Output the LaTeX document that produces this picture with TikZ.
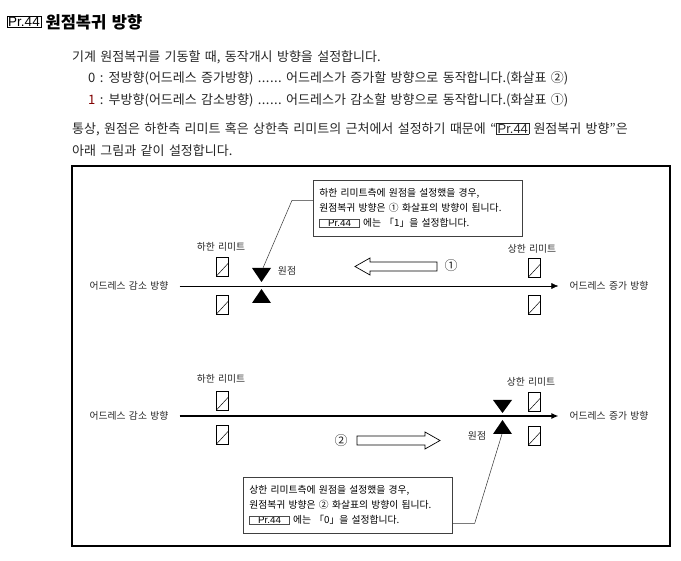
\documentclass[tikz,border=0pt]{standalone}
\usepackage{fontspec}
\setmainfont{Noto Sans CJK KR}[WordSpace=1.5]
\newfontfamily\prfont{Liberation Sans}
\usetikzlibrary{arrows.meta,positioning}
\newcommand{\prno}[1]{{\setlength{\fboxsep}{0.6pt}\setlength{\fboxrule}{0.6pt}\fcolorbox{black!70}{white}{\makebox[#1]{\prfont Pr.44}}}}
\newcommand{\leaderdots}{\makebox[24pt][s]{.\hfil.\hfil.\hfil.\hfil.\hfil.}}
\tikzset{
	prkey/.style={draw, line width=0.9pt, inner sep=1.2pt, font=\prfont\fontsize{13.5}{13.5}\selectfont},
	ttl/.style={inner sep=0pt, font=\bfseries\fontsize{16.5}{16.5}\selectfont},
	body/.style={anchor=west, inner sep=0pt, font=\fontsize{13}{14}\selectfont, text=black!85},
	lbl/.style={inner sep=0pt, font=\fontsize{9.8}{11}\selectfont, text=black!85},
	limitbox/.style={draw, line width=0.6pt, minimum width=12pt, minimum height=19pt, inner sep=0pt,
		path picture={\draw[line width=0.5pt] (path picture bounding box.south west) -- ([yshift=-6pt]path picture bounding box.north east);}},
	callout/.style={draw=black!75, line width=0.7pt, anchor=north west, minimum width=209pt, minimum height=56pt,
		text width=197pt, inner xsep=6pt, align=left, font=\fontsize{9.8}{15}\selectfont},
	leader/.style={line width=0.5pt, black!80},
	hollow/.style={draw, line width=0.7pt, fill=white}
}
\begin{document}
\begin{tikzpicture}[x=1pt,y=-1pt]
	\useasboundingbox (0,0) rectangle (681,561);
	% heading
	\node[prkey] (ttlkey) at (24,22) {Pr.44};
	\node[ttl, right=4pt of ttlkey] (ttl) {원점복귀 방향};

	% explanation
	\node[body] (l1) at (72,57) {기계 원점복귀를 기동할 때, 동작개시 방향을 설정합니다.};
	\node[body] (l2) at (88,78) {0 : 정방향(어드레스 증가방향) \leaderdots{} 어드레스가 증가할 방향으로 동작합니다.(화살표 ②)};
	\node[body] (l3) at (88,100) {\textcolor{red!50!black}{1} : 부방향(어드레스 감소방향) \leaderdots{} 어드레스가 감소할 방향으로 동작합니다.(화살표 ①)};
	\node[body] (l4) at (72,129) {통상, 원점은 하한측 리미트 혹은 상한측 리미트의 근처에서 설정하기 때문에 “{\setlength{\fboxsep}{0.8pt}\fbox{\prfont Pr.44}} 원점복귀 방향”은};
	\node[body] (l5) at (72,151) {아래 그림과 같이 설정합니다.};

	\draw[line width=1.1pt] (72,166) rectangle (670,546);%Rahmen

	% upper case: origin at lower limit
	\node[lbl] (dec1) at (129,286) {어드레스 감소 방향};
	\node[lbl] (inc1) at (609,286) {어드레스 증가 방향};
	\draw[line width=0.6pt, -{Latex[length=7pt,width=6pt]}] ([xshift=11pt]dec1.east) -- ([xshift=-11pt]inc1.west);

	\node[lbl] (lolbl1) at (221,247) {하한 리미트};
	\node[limitbox] (lo1a) at (222,267) {};
	\node[limitbox] (lo1b) at (222,305) {};
	\node[lbl] (uplbl1) at (532,249) {상한 리미트};
	\node[limitbox] (up1a) at (534,268) {};
	\node[limitbox] (up1b) at (534,305) {};

	\fill (252,268) -- (271,268) -- (261.5,282) -- cycle;%Dreieck unten
	\fill (252,303) -- (271,303) -- (261.5,289) -- cycle;%Dreieck oben
	\coordinate (org1) at (263,268);
	\node[lbl] (orglbl1) at (287,271) {원점};

	\draw[hollow] (437,262) -- (370,262) -- (370,258) -- (355,266.5) -- (370,275) -- (370,271) -- (437,271) -- cycle;%Pfeil 1
	\node[lbl, font=\fontsize{13}{13}\selectfont] (num1) at (451,266) {①};

	\node[callout] (cb1) at (313,180) {하한 리미트측에 원점을 설정했을 경우,\\원점복귀 방향은 ① 화살표의 방향이 됩니다.\\\prno{38pt} 에는 「1」을 설정합니다.};
	\draw[leader] ([yshift=8pt]cb1.west) -- ++(-21,0) -- (org1);

	% lower case: origin at upper limit
	\node[lbl] (dec2) at (129,416) {어드레스 감소 방향};
	\node[lbl] (inc2) at (609,416) {어드레스 증가 방향};
	\draw[line width=1.2pt, -{Latex[length=7pt,width=6pt]}] ([xshift=11pt]dec2.east) -- ([xshift=-11pt]inc2.west);

	\node[lbl] (lolbl2) at (221,379) {하한 리미트};
	\node[limitbox] (lo2a) at (222,401) {};
	\node[limitbox] (lo2b) at (222,435) {};
	\node[lbl] (uplbl2) at (531,382) {상한 리미트};
	\node[limitbox] (up2a) at (534,402) {};
	\node[limitbox] (up2b) at (534,436) {};

	\fill (493,400) -- (512,400) -- (502.5,413) -- cycle;%Dreieck unten
	\fill (493,434) -- (512,434) -- (502.5,420) -- cycle;%Dreieck oben
	\coordinate (org2) at (502,434);
	\node[lbl] (orglbl2) at (477,436) {원점};

	\draw[hollow] (357,436) -- (425,436) -- (425,432) -- (440,440.5) -- (425,449) -- (425,445) -- (357,445) -- cycle;%Pfeil 2
	\node[lbl, font=\fontsize{13}{13}\selectfont] (num2) at (341,441) {②};

	\node[callout] (cb2) at (243,477) {상한 리미트측에 원점을 설정했을 경우,\\원점복귀 방향은 ② 화살표의 방향이 됩니다.\\\prno{38pt} 에는 「0」을 설정합니다.};
	\draw[leader] ([yshift=-18pt]cb2.east) -- ++(22,0) -- (org2);
\end{tikzpicture}
\end{document}
